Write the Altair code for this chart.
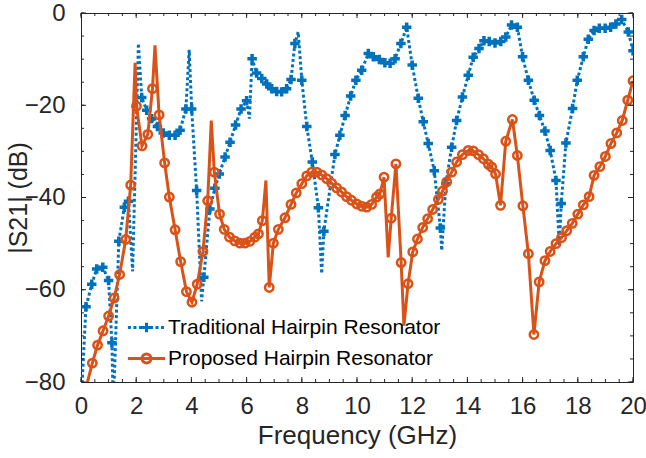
import altair as alt
import numpy as np
import pandas as pd

# ---- measured |S21| samples (GHz, dB) ----
# Traditional hairpin resonator: sampled points drawn with '+' markers
trad_freq = [0.18, 0.39, 0.57, 0.79, 1.00, 1.12, 1.37, 1.57, 1.72, 2.20, 2.38, 2.56, 2.77, 2.98,
             3.20, 3.41, 3.59, 3.80, 4.01, 4.19, 4.45, 4.67, 4.85, 5.01, 5.22, 5.40, 5.60, 5.80,
             6.00, 6.20, 6.36, 6.55, 6.73, 6.91, 7.09, 7.27, 7.45, 7.61, 7.75, 8.00, 8.18, 8.38,
             8.60, 8.80, 9.20, 9.38, 9.57, 9.77, 9.96, 10.17, 10.41, 10.59, 10.81, 11.01, 11.20,
             11.38, 11.59, 11.80, 12.00, 12.22, 12.40, 12.58, 12.80, 13.02, 13.22, 13.43, 13.61,
             13.82, 14.03, 14.21, 14.42, 14.60, 14.79, 15.00, 15.21, 15.39, 15.60, 15.81, 16.00,
             16.21, 16.42, 16.61, 16.81, 17.00, 17.21, 17.40, 17.57, 17.81, 17.98, 18.20, 18.38,
             18.59, 18.78, 18.99, 19.19, 19.38, 19.59, 19.83, 20.00]
trad_db = [-63.7, -58.8, -55.5, -55.1, -58.0, -71.5, -49.5, -42.1, -40.8, -18.3, -21.1, -22.9, -24.6, -26.0,
           -26.5, -26.5, -25.4, -20.8, -20.8, -38.5, -57.3, -42.5, -38.0, -34.9, -31.2, -28.0, -24.3, -20.8,
           -19.0, -9.9, -13.0, -14.2, -15.4, -16.4, -17.0, -17.1, -16.4, -14.4, -6.6, -14.6, -24.6, -32.3,
           -42.2, -47.3, -30.7, -26.5, -22.2, -18.0, -14.6, -12.4, -8.8, -9.5, -10.1, -10.8, -10.9,
           -9.9, -6.6, -3.1, -11.3, -18.5, -23.6, -28.3, -34.2, -46.6, -37.0, -29.1, -23.3,
           -18.2, -13.5, -9.6, -7.7, -6.0, -6.2, -6.5, -6.2, -5.2, -2.6, -3.1, -9.5,
           -14.6, -18.9, -22.2, -25.6, -29.8, -36.3, -41.3, -28.2, -20.7, -14.6, -9.5, -5.7,
           -3.8, -3.3, -3.3, -3.1, -2.4, -1.4, -4.1, -8.2]
# sharp resonances between samples (line vertices without markers)
trad_peak_freq = [0.00, 1.17, 1.87, 2.08, 3.92, 4.37, 6.10, 7.87, 8.72, 13.07, 17.33]
trad_peak_db = [-85.0, -86.0, -56.0, -6.6, -8.0, -62.5, -22.9, -4.1, -56.5, -51.5, -50.5]

# Proposed hairpin resonator: sampled points drawn with 'o' markers
prop_freq = [0.41, 0.60, 0.80, 1.00, 1.20, 1.40, 1.62, 1.80, 2.01, 2.21, 2.42, 2.59, 2.83, 3.03,
             3.20, 3.41, 3.61, 3.82, 4.02, 4.21, 4.42, 4.59, 4.83, 5.02, 5.19, 5.38, 5.57, 5.76,
             5.94, 6.12, 6.30, 6.43, 6.57, 6.82, 6.97, 7.15, 7.39, 7.61, 7.80, 8.00, 8.18, 8.36,
             8.54, 8.72, 8.90, 9.08, 9.26, 9.44, 9.62, 9.80, 9.99, 10.17, 10.35, 10.53, 10.71,
             10.83, 10.98, 11.24, 11.41, 11.60, 11.85, 12.02, 12.19, 12.38, 12.56, 12.74, 12.95,
             13.10, 13.25, 13.43, 13.61, 13.82, 14.03, 14.21, 14.40, 14.58, 14.76, 14.88, 15.02,
             15.20, 15.39, 15.63, 15.81, 16.01, 16.21, 16.41, 16.60, 16.81, 17.00, 17.21, 17.41,
             17.60, 17.80, 18.00, 18.20, 18.41, 18.59, 18.80, 19.00, 19.20, 19.41, 19.61, 19.81,
             20.00]
prop_db = [-75.9, -72.0, -68.9, -65.7, -61.8, -56.7, -49.1, -37.3, -20.2, -28.8, -26.3, -16.4, -22.1, -32.5,
           -39.9, -47.0, -53.9, -60.4, -62.7, -58.8, -51.7, -40.7, -34.5, -43.6, -46.9, -48.6, -49.4, -49.9,
           -49.9, -49.5, -48.6, -47.9, -45.0, -59.5, -49.9, -46.9, -44.4, -41.5, -39.0, -37.0, -35.3, -34.5,
           -34.5, -35.1, -35.9, -36.9, -37.9, -38.8, -39.8, -40.6, -41.4, -41.9, -42.1, -41.5, -39.9,
           -39.2, -35.6, -44.5, -32.7, -54.1, -58.7, -51.8, -49.0, -46.5, -44.6, -42.6, -40.4,
           -38.6, -36.6, -34.5, -32.3, -30.7, -29.8, -29.9, -30.7, -31.6, -32.8, -33.4, -34.9,
           -41.7, -27.8, -23.1, -30.9, -41.8, -52.2, -69.7, -58.3, -53.7, -51.7, -50.0, -48.7,
           -47.2, -45.6, -43.6, -41.6, -39.8, -35.2, -33.3, -31.1, -28.3, -26.0, -23.3, -18.9,
           -14.7]
prop_peak_freq = [0.15, 1.96, 2.68, 4.72, 6.70, 11.13, 11.70]
prop_peak_db = [-82.0, -10.8, -7.0, -23.3, -36.3, -53.0, -67.8]

series_names = ["Traditional Hairpin Resonator", "Proposed Hairpin Resonator"]

BLUE = "#0072BD"
ORANGE = "#D95319"
INK = "#262626"
FONT = "Liberation Sans"
W, H = 552, 369


def line_table(f, d, pf, pd_):
    df = pd.DataFrame({"f": list(f) + list(pf), "db": list(d) + list(pd_)})
    return df.sort_values("f").reset_index(drop=True)


trad_line = line_table(trad_freq, trad_db, trad_peak_freq, trad_peak_db)
prop_line = line_table(prop_freq, prop_db, prop_peak_freq, prop_peak_db)
trad_pts = pd.DataFrame({"f": trad_freq, "db": trad_db})
prop_pts = pd.DataFrame({"f": prop_freq, "db": prop_db})

xscale = alt.Scale(domain=[0, 20], nice=False, zero=False)
yscale = alt.Scale(domain=[-80, 0], nice=False, zero=False)

x_axis = alt.Axis(values=list(range(0, 21, 2)), title="Frequency (GHz)", ticks=False, domain=False,
                  grid=False, labelFontSize=24, labelPadding=12, titleFontSize=26, titlePadding=4,
                  labelFlush=False)
y_axis = alt.Axis(values=[-80, -60, -40, -20, 0], title="|S21| (dB)", ticks=False, domain=False,
                  grid=False, labelFontSize=24, labelPadding=16, titleFontSize=25,
                  titleX=-63, titleY=H / 2, titleBaseline="middle", labelFlush=False)

X = alt.X("f:Q", scale=xscale, axis=x_axis)
Y = alt.Y("db:Q", scale=yscale, axis=y_axis)

plus_path = "M-1,0L1,0M0,-1L0,1"

trad_l = alt.Chart(trad_line).mark_line(color=BLUE, strokeWidth=3, strokeDash=[3, 2.5], clip=True).encode(x=X, y=Y)
trad_p = alt.Chart(trad_pts).mark_point(shape=plus_path, size=90, color=BLUE, filled=False,
                                        strokeWidth=3.5, opacity=1, clip=True).encode(x=X, y=Y)
prop_l = alt.Chart(prop_line).mark_line(color=ORANGE, strokeWidth=3, clip=True).encode(x=X, y=Y)
prop_p = alt.Chart(prop_pts).mark_point(shape="circle", size=70, color=ORANGE, filled=False,
                                        strokeWidth=2.5, opacity=1, clip=True).encode(x=X, y=Y)

# inward box ticks: minor every 0.5 GHz / 5 dB, major every 2 GHz / 20 dB
xt_minor = pd.DataFrame({"f": np.arange(0, 20.01, 0.5)})
xt_major = pd.DataFrame({"f": np.arange(0, 20.01, 2.0)})
yt_minor = pd.DataFrame({"db": np.arange(-80, 0.01, 5.0)})
yt_major = pd.DataFrame({"db": np.arange(-80, 0.01, 20.0)})


def xticks(df, ln):
    base = alt.Chart(df).mark_rule(color=INK, strokeWidth=1)
    return (base.encode(x=X, y=alt.value(H), y2=alt.value(H - ln)) +
            base.encode(x=X, y=alt.value(0), y2=alt.value(ln)))


def yticks(df, ln):
    base = alt.Chart(df).mark_rule(color=INK, strokeWidth=1)
    return (base.encode(y=Y, x=alt.value(0), x2=alt.value(ln)) +
            base.encode(y=Y, x=alt.value(W), x2=alt.value(W - ln)))


# legend glyphs: line sample with the marker on top
dots = "".join(f"M{a:.2f},0L{a + 0.5:.2f},0" for a in np.arange(-3.1, 3.0, 0.92))
trad_glyph = dots + "M-0.78,0L0.78,0M0,-0.78L0,0.78"
prop_glyph = "M-3.1,0L3.1,0M-0.75,0A0.75,0.75,0,1,1,0.75,0A0.75,0.75,0,1,1,-0.75,0Z"

leg = alt.Legend(title=None, orient="none", legendX=55, legendY=304, labelFont=FONT, labelFontSize=21,
                 labelColor="black", labelLimit=0, symbolSize=144, symbolStrokeWidth=3, labelOffset=11,
                 symbolOffset=0, rowPadding=8, padding=0)
legend_layer = alt.Chart(pd.DataFrame({"series": series_names})).mark_point(
    filled=False, strokeWidth=3, opacity=1
).encode(
    shape=alt.Shape("series:N", scale=alt.Scale(domain=series_names, range=[trad_glyph, prop_glyph]), legend=leg),
    color=alt.Color("series:N", scale=alt.Scale(domain=series_names, range=[BLUE, ORANGE]), legend=leg),
).transform_filter("false")

chart = alt.layer(
    trad_l, trad_p, prop_l, prop_p,
    xticks(xt_minor, 3), xticks(xt_major, 5), yticks(yt_minor, 3), yticks(yt_major, 5),
    legend_layer,
).properties(
    width=W, height=H,
    autosize=alt.AutoSizeParams(type="none"),
    padding={"left": 81, "top": 13, "right": 13, "bottom": 76},
    background="white",
).configure_view(
    stroke=INK, strokeWidth=1
).configure_axis(
    labelFont=FONT, titleFont=FONT, labelColor=INK, titleColor=INK, titleFontWeight="normal"
)

chart.save("out.html", embed_options={"renderer": "svg", "actions": False})
